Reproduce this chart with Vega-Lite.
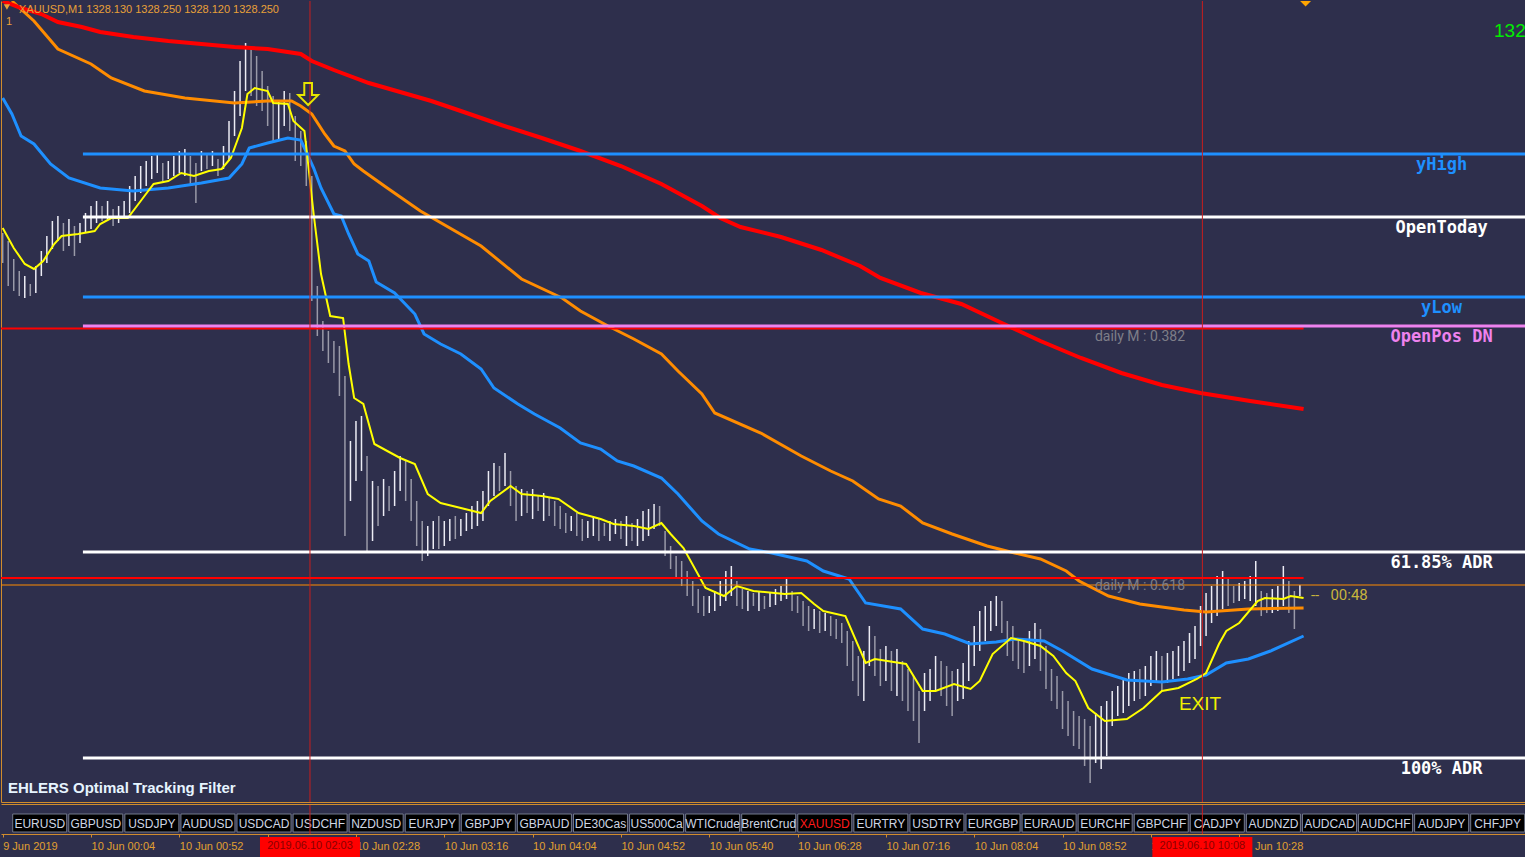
{
"$schema": "https://vega.github.io/schema/vega-lite/v6.json",
"padding": 0,
"background": "#2e2f4c",
"spacing": 0,
"config": {"view": {"stroke": null}, "axis": {"grid": false}},
"datasets": {
"candles": [
{"t":0,"h":1335.36,"l":1334.76,"c":"d"},{"t":3,"h":1335.20,"l":1334.30,"c":"d"},{"t":6,"h":1334.84,"l":1334.20,"c":"d"},{"t":9,"h":1334.60,"l":1334.10,"c":"d"},{"t":12,"h":1334.50,"l":1334.06,"c":"u"},{"t":15,"h":1334.34,"l":1334.10,"c":"d"},{"t":18,"h":1334.70,"l":1334.16,"c":"u"},{"t":21,"h":1335.00,"l":1334.50,"c":"u"},{"t":24,"h":1335.30,"l":1334.76,"c":"u"},{"t":27,"h":1335.60,"l":1335.04,"c":"u"},{"t":30,"h":1335.70,"l":1335.20,"c":"u"},{"t":33,"h":1335.56,"l":1335.00,"c":"d"},{"t":36,"h":1335.64,"l":1335.10,"c":"u"},{"t":39,"h":1335.50,"l":1334.90,"c":"d"},{"t":42,"h":1335.56,"l":1335.16,"c":"u"},{"t":45,"h":1335.76,"l":1335.36,"c":"u"},{"t":48,"h":1335.90,"l":1335.44,"c":"u"},{"t":51,"h":1336.00,"l":1335.56,"c":"u"},{"t":54,"h":1335.90,"l":1335.60,"c":"d"},{"t":57,"h":1336.00,"l":1335.64,"c":"u"},{"t":60,"h":1335.84,"l":1335.50,"c":"d"},{"t":63,"h":1335.90,"l":1335.56,"c":"u"},{"t":66,"h":1336.00,"l":1335.64,"c":"u"},{"t":69,"h":1336.30,"l":1335.76,"c":"u"},{"t":72,"h":1336.50,"l":1336.00,"c":"u"},{"t":75,"h":1336.70,"l":1336.16,"c":"u"},{"t":78,"h":1336.80,"l":1336.30,"c":"u"},{"t":81,"h":1336.90,"l":1336.44,"c":"u"},{"t":84,"h":1336.96,"l":1336.56,"c":"u"},{"t":87,"h":1336.76,"l":1336.40,"c":"d"},{"t":90,"h":1336.80,"l":1336.44,"c":"u"},{"t":93,"h":1336.90,"l":1336.50,"c":"u"},{"t":96,"h":1337.00,"l":1336.56,"c":"u"},{"t":99,"h":1337.04,"l":1336.50,"c":"u"},{"t":102,"h":1336.90,"l":1336.30,"c":"d"},{"t":105,"h":1336.76,"l":1335.96,"c":"d"},{"t":108,"h":1337.00,"l":1336.60,"c":"u"},{"t":111,"h":1336.96,"l":1336.64,"c":"d"},{"t":114,"h":1337.00,"l":1336.70,"c":"u"},{"t":117,"h":1336.84,"l":1336.50,"c":"d"},{"t":120,"h":1337.10,"l":1336.64,"c":"u"},{"t":123,"h":1337.60,"l":1336.80,"c":"u"},{"t":126,"h":1338.20,"l":1337.30,"c":"u"},{"t":129,"h":1338.80,"l":1337.70,"c":"u"},{"t":132,"h":1339.16,"l":1338.20,"c":"u"},{"t":135,"h":1339.04,"l":1338.10,"c":"d"},{"t":138,"h":1338.90,"l":1337.90,"c":"d"},{"t":141,"h":1338.60,"l":1337.80,"c":"d"},{"t":144,"h":1338.30,"l":1337.50,"c":"d"},{"t":147,"h":1338.10,"l":1337.20,"c":"d"},{"t":150,"h":1338.00,"l":1337.24,"c":"u"},{"t":153,"h":1338.20,"l":1337.50,"c":"u"},{"t":156,"h":1338.16,"l":1337.40,"c":"d"},{"t":159,"h":1337.70,"l":1336.80,"c":"d"},{"t":162,"h":1337.40,"l":1336.70,"c":"d"},{"t":165,"h":1337.20,"l":1336.30,"c":"d"},{"t":168,"h":1336.50,"l":1334.00,"c":"d"},{"t":171,"h":1334.30,"l":1333.30,"c":"d"},{"t":174,"h":1333.60,"l":1333.00,"c":"d"},{"t":177,"h":1333.40,"l":1332.76,"c":"d"},{"t":180,"h":1333.20,"l":1332.56,"c":"d"},{"t":183,"h":1333.10,"l":1332.10,"c":"d"},{"t":186,"h":1332.50,"l":1329.30,"c":"d"},{"t":189,"h":1331.20,"l":1330.00,"c":"u"},{"t":192,"h":1331.60,"l":1330.40,"c":"u"},{"t":195,"h":1331.70,"l":1330.60,"c":"u"},{"t":198,"h":1330.90,"l":1329.00,"c":"d"},{"t":201,"h":1330.40,"l":1329.20,"c":"u"},{"t":204,"h":1330.30,"l":1329.50,"c":"d"},{"t":207,"h":1330.44,"l":1329.70,"c":"u"},{"t":210,"h":1330.30,"l":1329.80,"c":"d"},{"t":213,"h":1330.60,"l":1329.90,"c":"u"},{"t":216,"h":1330.90,"l":1330.20,"c":"u"},{"t":219,"h":1330.80,"l":1330.00,"c":"d"},{"t":222,"h":1330.44,"l":1329.60,"c":"d"},{"t":225,"h":1330.00,"l":1329.10,"c":"d"},{"t":228,"h":1329.60,"l":1328.80,"c":"d"},{"t":231,"h":1329.50,"l":1328.90,"c":"u"},{"t":234,"h":1329.60,"l":1329.04,"c":"u"},{"t":237,"h":1329.70,"l":1329.04,"c":"d"},{"t":240,"h":1329.60,"l":1329.10,"c":"u"},{"t":243,"h":1329.64,"l":1329.20,"c":"u"},{"t":246,"h":1329.70,"l":1329.24,"c":"d"},{"t":249,"h":1329.64,"l":1329.30,"c":"u"},{"t":252,"h":1329.76,"l":1329.40,"c":"u"},{"t":255,"h":1329.90,"l":1329.44,"c":"u"},{"t":258,"h":1330.00,"l":1329.50,"c":"u"},{"t":261,"h":1330.20,"l":1329.60,"c":"u"},{"t":264,"h":1330.60,"l":1329.90,"c":"u"},{"t":267,"h":1330.76,"l":1330.10,"c":"u"},{"t":270,"h":1330.70,"l":1330.20,"c":"d"},{"t":273,"h":1330.96,"l":1330.30,"c":"u"},{"t":276,"h":1330.60,"l":1329.90,"c":"d"},{"t":279,"h":1330.30,"l":1329.60,"c":"d"},{"t":282,"h":1330.24,"l":1329.70,"c":"u"},{"t":285,"h":1330.20,"l":1329.76,"c":"d"},{"t":288,"h":1330.24,"l":1329.64,"c":"u"},{"t":291,"h":1330.10,"l":1329.80,"c":"d"},{"t":294,"h":1330.16,"l":1329.60,"c":"u"},{"t":297,"h":1330.06,"l":1329.70,"c":"d"},{"t":300,"h":1330.00,"l":1329.50,"c":"d"},{"t":303,"h":1329.90,"l":1329.44,"c":"d"},{"t":306,"h":1329.76,"l":1329.36,"c":"d"},{"t":309,"h":1329.70,"l":1329.40,"c":"u"},{"t":312,"h":1329.76,"l":1329.30,"c":"d"},{"t":315,"h":1329.64,"l":1329.20,"c":"d"},{"t":318,"h":1329.60,"l":1329.26,"c":"u"},{"t":321,"h":1329.70,"l":1329.30,"c":"u"},{"t":324,"h":1329.64,"l":1329.20,"c":"d"},{"t":327,"h":1329.56,"l":1329.30,"c":"d"},{"t":330,"h":1329.60,"l":1329.20,"c":"u"},{"t":333,"h":1329.64,"l":1329.34,"c":"u"},{"t":336,"h":1329.60,"l":1329.24,"c":"d"},{"t":339,"h":1329.70,"l":1329.10,"c":"u"},{"t":342,"h":1329.56,"l":1329.20,"c":"d"},{"t":345,"h":1329.64,"l":1329.10,"c":"u"},{"t":348,"h":1329.80,"l":1329.20,"c":"u"},{"t":351,"h":1329.84,"l":1329.30,"c":"u"},{"t":354,"h":1329.94,"l":1329.44,"c":"u"},{"t":357,"h":1329.90,"l":1329.50,"c":"d"},{"t":360,"h":1329.40,"l":1328.90,"c":"d"},{"t":363,"h":1329.10,"l":1328.64,"c":"d"},{"t":366,"h":1328.90,"l":1328.44,"c":"d"},{"t":369,"h":1328.80,"l":1328.30,"c":"d"},{"t":372,"h":1328.60,"l":1328.10,"c":"d"},{"t":375,"h":1328.40,"l":1327.90,"c":"d"},{"t":378,"h":1328.24,"l":1327.76,"c":"d"},{"t":381,"h":1328.10,"l":1327.70,"c":"d"},{"t":384,"h":1328.10,"l":1327.76,"c":"u"},{"t":387,"h":1328.20,"l":1327.80,"c":"u"},{"t":390,"h":1328.40,"l":1327.90,"c":"u"},{"t":393,"h":1328.60,"l":1328.00,"c":"u"},{"t":396,"h":1328.70,"l":1328.10,"c":"u"},{"t":399,"h":1328.40,"l":1327.90,"c":"d"},{"t":402,"h":1328.24,"l":1327.84,"c":"d"},{"t":405,"h":1328.20,"l":1327.80,"c":"u"},{"t":408,"h":1328.16,"l":1327.90,"c":"d"},{"t":411,"h":1328.20,"l":1327.80,"c":"u"},{"t":414,"h":1328.10,"l":1327.84,"c":"d"},{"t":417,"h":1328.16,"l":1327.88,"c":"u"},{"t":420,"h":1328.24,"l":1327.92,"c":"u"},{"t":423,"h":1328.30,"l":1328.00,"c":"u"},{"t":426,"h":1328.44,"l":1328.04,"c":"u"},{"t":429,"h":1328.20,"l":1327.80,"c":"d"},{"t":432,"h":1328.10,"l":1327.76,"c":"d"},{"t":435,"h":1328.00,"l":1327.50,"c":"d"},{"t":438,"h":1327.90,"l":1327.40,"c":"d"},{"t":441,"h":1327.84,"l":1327.44,"c":"u"},{"t":444,"h":1327.80,"l":1327.36,"c":"d"},{"t":447,"h":1327.76,"l":1327.40,"c":"u"},{"t":450,"h":1327.70,"l":1327.30,"c":"d"},{"t":453,"h":1327.64,"l":1327.24,"c":"d"},{"t":456,"h":1327.56,"l":1327.16,"c":"d"},{"t":459,"h":1327.40,"l":1326.70,"c":"d"},{"t":462,"h":1327.20,"l":1326.40,"c":"d"},{"t":465,"h":1326.90,"l":1326.10,"c":"d"},{"t":468,"h":1327.00,"l":1326.00,"c":"u"},{"t":471,"h":1327.50,"l":1326.70,"c":"u"},{"t":474,"h":1327.30,"l":1326.50,"c":"d"},{"t":477,"h":1327.04,"l":1326.30,"c":"d"},{"t":480,"h":1327.10,"l":1326.40,"c":"u"},{"t":483,"h":1327.00,"l":1326.20,"c":"d"},{"t":486,"h":1327.04,"l":1326.10,"c":"u"},{"t":489,"h":1326.80,"l":1326.00,"c":"d"},{"t":492,"h":1326.64,"l":1325.80,"c":"d"},{"t":495,"h":1326.50,"l":1325.60,"c":"d"},{"t":498,"h":1326.20,"l":1325.16,"c":"d"},{"t":501,"h":1326.56,"l":1325.80,"c":"u"},{"t":504,"h":1326.64,"l":1326.00,"c":"u"},{"t":507,"h":1326.90,"l":1326.20,"c":"u"},{"t":510,"h":1326.80,"l":1326.10,"c":"d"},{"t":513,"h":1326.70,"l":1325.90,"c":"d"},{"t":516,"h":1326.60,"l":1325.70,"c":"d"},{"t":519,"h":1326.64,"l":1326.00,"c":"u"},{"t":522,"h":1326.76,"l":1326.04,"c":"u"},{"t":525,"h":1327.20,"l":1326.40,"c":"u"},{"t":528,"h":1327.50,"l":1326.70,"c":"u"},{"t":531,"h":1327.80,"l":1327.00,"c":"u"},{"t":534,"h":1327.90,"l":1327.20,"c":"u"},{"t":537,"h":1328.00,"l":1327.40,"c":"u"},{"t":540,"h":1328.10,"l":1327.50,"c":"u"},{"t":543,"h":1328.00,"l":1327.36,"c":"d"},{"t":546,"h":1327.60,"l":1326.90,"c":"d"},{"t":549,"h":1327.50,"l":1326.80,"c":"d"},{"t":552,"h":1327.24,"l":1326.64,"c":"d"},{"t":555,"h":1327.20,"l":1326.56,"c":"d"},{"t":558,"h":1327.40,"l":1326.70,"c":"u"},{"t":561,"h":1327.56,"l":1326.84,"c":"u"},{"t":564,"h":1327.44,"l":1326.60,"c":"d"},{"t":567,"h":1327.10,"l":1326.24,"c":"d"},{"t":570,"h":1326.64,"l":1326.00,"c":"d"},{"t":573,"h":1326.50,"l":1325.84,"c":"d"},{"t":576,"h":1326.20,"l":1325.44,"c":"d"},{"t":579,"h":1326.00,"l":1325.30,"c":"d"},{"t":582,"h":1325.80,"l":1325.10,"c":"d"},{"t":585,"h":1325.70,"l":1325.04,"c":"d"},{"t":588,"h":1325.64,"l":1324.70,"c":"d"},{"t":591,"h":1325.50,"l":1324.36,"c":"d"},{"t":594,"h":1325.76,"l":1324.76,"c":"u"},{"t":597,"h":1325.90,"l":1324.64,"c":"u"},{"t":600,"h":1326.00,"l":1324.90,"c":"u"},{"t":603,"h":1326.20,"l":1325.50,"c":"u"},{"t":606,"h":1326.30,"l":1325.70,"c":"u"},{"t":609,"h":1326.44,"l":1325.76,"c":"u"},{"t":612,"h":1326.56,"l":1325.90,"c":"u"},{"t":615,"h":1326.60,"l":1326.00,"c":"u"},{"t":618,"h":1326.64,"l":1326.04,"c":"d"},{"t":621,"h":1326.70,"l":1326.10,"c":"u"},{"t":624,"h":1326.90,"l":1326.30,"c":"u"},{"t":627,"h":1327.00,"l":1326.40,"c":"u"},{"t":630,"h":1326.90,"l":1326.20,"c":"d"},{"t":633,"h":1326.96,"l":1326.36,"c":"u"},{"t":636,"h":1327.00,"l":1326.44,"c":"u"},{"t":639,"h":1327.10,"l":1326.50,"c":"u"},{"t":642,"h":1327.20,"l":1326.60,"c":"u"},{"t":645,"h":1327.36,"l":1326.76,"c":"u"},{"t":648,"h":1327.50,"l":1326.84,"c":"u"},{"t":651,"h":1327.90,"l":1327.10,"c":"u"},{"t":654,"h":1328.16,"l":1327.30,"c":"u"},{"t":657,"h":1328.30,"l":1327.56,"c":"u"},{"t":660,"h":1328.50,"l":1327.70,"c":"u"},{"t":663,"h":1328.60,"l":1327.84,"c":"u"},{"t":666,"h":1328.44,"l":1327.90,"c":"d"},{"t":669,"h":1328.30,"l":1327.96,"c":"d"},{"t":672,"h":1328.36,"l":1328.00,"c":"u"},{"t":675,"h":1328.40,"l":1328.04,"c":"u"},{"t":678,"h":1328.50,"l":1328.00,"c":"u"},{"t":681,"h":1328.80,"l":1327.90,"c":"u"},{"t":684,"h":1328.20,"l":1327.70,"c":"d"},{"t":687,"h":1328.16,"l":1327.76,"c":"d"},{"t":690,"h":1328.24,"l":1327.76,"c":"u"},{"t":693,"h":1328.30,"l":1327.80,"c":"u"},{"t":696,"h":1328.70,"l":1327.90,"c":"u"},{"t":699,"h":1328.40,"l":1327.76,"c":"d"},{"t":702,"h":1328.20,"l":1327.44,"c":"d"},{"t":705,"h":1328.32,"l":1328.10,"c":"u"}
],
"red": [
{"t":0,"p":1340.00},{"t":10,"p":1339.86},{"t":21,"p":1339.74},{"t":30,"p":1339.58},{"t":43,"p":1339.48},{"t":53,"p":1339.38},{"t":71,"p":1339.28},{"t":90,"p":1339.20},{"t":108,"p":1339.14},{"t":126,"p":1339.08},{"t":144,"p":1339.04},{"t":162,"p":1338.94},{"t":168,"p":1338.80},{"t":180,"p":1338.62},{"t":199,"p":1338.36},{"t":216,"p":1338.18},{"t":233,"p":1338.00},{"t":249,"p":1337.80},{"t":271,"p":1337.52},{"t":293,"p":1337.26},{"t":314,"p":1337.00},{"t":336,"p":1336.70},{"t":358,"p":1336.34},{"t":380,"p":1335.90},{"t":390,"p":1335.66},{"t":401,"p":1335.48},{"t":423,"p":1335.28},{"t":445,"p":1335.02},{"t":466,"p":1334.70},{"t":477,"p":1334.46},{"t":499,"p":1334.16},{"t":521,"p":1333.94},{"t":543,"p":1333.56},{"t":564,"p":1333.20},{"t":586,"p":1332.86},{"t":608,"p":1332.56},{"t":630,"p":1332.32},{"t":651,"p":1332.16},{"t":678,"p":1332.00},{"t":707,"p":1331.84}
],
"orange": [
{"t":5,"p":1340.00},{"t":17,"p":1339.60},{"t":30,"p":1339.04},{"t":48,"p":1338.74},{"t":59,"p":1338.46},{"t":77,"p":1338.20},{"t":99,"p":1338.06},{"t":126,"p":1337.96},{"t":144,"p":1338.00},{"t":157,"p":1338.00},{"t":162,"p":1337.90},{"t":168,"p":1337.74},{"t":175,"p":1337.34},{"t":180,"p":1337.10},{"t":186,"p":1337.00},{"t":191,"p":1336.74},{"t":196,"p":1336.60},{"t":209,"p":1336.26},{"t":227,"p":1335.80},{"t":260,"p":1335.10},{"t":282,"p":1334.44},{"t":304,"p":1334.06},{"t":314,"p":1333.80},{"t":329,"p":1333.50},{"t":343,"p":1333.24},{"t":358,"p":1332.94},{"t":367,"p":1332.60},{"t":380,"p":1332.14},{"t":387,"p":1331.76},{"t":412,"p":1331.36},{"t":434,"p":1330.90},{"t":450,"p":1330.60},{"t":462,"p":1330.40},{"t":476,"p":1330.04},{"t":488,"p":1329.90},{"t":500,"p":1329.56},{"t":516,"p":1329.34},{"t":535,"p":1329.10},{"t":550,"p":1328.96},{"t":564,"p":1328.84},{"t":578,"p":1328.60},{"t":585,"p":1328.40},{"t":601,"p":1328.10},{"t":618,"p":1327.94},{"t":642,"p":1327.82},{"t":654,"p":1327.78},{"t":677,"p":1327.84},{"t":707,"p":1327.86}
],
"blue": [
{"t":0,"p":1338.06},{"t":5,"p":1337.74},{"t":10,"p":1337.30},{"t":17,"p":1337.14},{"t":26,"p":1336.74},{"t":36,"p":1336.46},{"t":53,"p":1336.26},{"t":71,"p":1336.20},{"t":90,"p":1336.26},{"t":108,"p":1336.36},{"t":123,"p":1336.46},{"t":130,"p":1336.74},{"t":134,"p":1337.06},{"t":144,"p":1337.16},{"t":155,"p":1337.26},{"t":162,"p":1337.22},{"t":164,"p":1337.06},{"t":169,"p":1336.66},{"t":173,"p":1336.26},{"t":180,"p":1335.74},{"t":184,"p":1335.70},{"t":188,"p":1335.34},{"t":193,"p":1334.94},{"t":199,"p":1334.80},{"t":203,"p":1334.38},{"t":213,"p":1334.16},{"t":224,"p":1333.74},{"t":229,"p":1333.34},{"t":238,"p":1333.14},{"t":249,"p":1332.94},{"t":260,"p":1332.64},{"t":267,"p":1332.26},{"t":280,"p":1331.94},{"t":289,"p":1331.74},{"t":303,"p":1331.46},{"t":314,"p":1331.16},{"t":325,"p":1331.04},{"t":334,"p":1330.80},{"t":343,"p":1330.70},{"t":358,"p":1330.46},{"t":367,"p":1330.14},{"t":380,"p":1329.60},{"t":389,"p":1329.34},{"t":406,"p":1329.04},{"t":418,"p":1328.96},{"t":437,"p":1328.80},{"t":446,"p":1328.60},{"t":460,"p":1328.44},{"t":469,"p":1327.96},{"t":488,"p":1327.84},{"t":500,"p":1327.44},{"t":512,"p":1327.34},{"t":526,"p":1327.14},{"t":540,"p":1327.18},{"t":550,"p":1327.24},{"t":566,"p":1327.20},{"t":576,"p":1327.00},{"t":592,"p":1326.64},{"t":611,"p":1326.42},{"t":630,"p":1326.38},{"t":644,"p":1326.44},{"t":654,"p":1326.52},{"t":665,"p":1326.76},{"t":677,"p":1326.84},{"t":689,"p":1327.00},{"t":707,"p":1327.30}
],
"yellow": [
{"t":0,"p":1335.46},{"t":6,"p":1335.06},{"t":12,"p":1334.74},{"t":17,"p":1334.64},{"t":22,"p":1334.80},{"t":28,"p":1335.14},{"t":32,"p":1335.30},{"t":41,"p":1335.34},{"t":50,"p":1335.40},{"t":53,"p":1335.54},{"t":59,"p":1335.66},{"t":68,"p":1335.66},{"t":75,"p":1336.00},{"t":82,"p":1336.34},{"t":90,"p":1336.40},{"t":97,"p":1336.56},{"t":104,"p":1336.50},{"t":112,"p":1336.60},{"t":119,"p":1336.64},{"t":124,"p":1336.86},{"t":130,"p":1337.46},{"t":133,"p":1338.14},{"t":137,"p":1338.26},{"t":144,"p":1338.20},{"t":147,"p":1337.96},{"t":155,"p":1337.94},{"t":158,"p":1337.60},{"t":164,"p":1337.40},{"t":166,"p":1336.74},{"t":169,"p":1335.74},{"t":173,"p":1334.54},{"t":178,"p":1333.70},{"t":185,"p":1333.66},{"t":188,"p":1332.74},{"t":191,"p":1332.06},{"t":196,"p":1331.94},{"t":202,"p":1331.14},{"t":209,"p":1331.00},{"t":216,"p":1330.86},{"t":224,"p":1330.74},{"t":231,"p":1330.14},{"t":238,"p":1329.96},{"t":249,"p":1329.86},{"t":260,"p":1329.76},{"t":265,"p":1330.00},{"t":276,"p":1330.30},{"t":282,"p":1330.14},{"t":293,"p":1330.10},{"t":302,"p":1330.04},{"t":313,"p":1329.76},{"t":325,"p":1329.64},{"t":332,"p":1329.54},{"t":343,"p":1329.50},{"t":351,"p":1329.44},{"t":358,"p":1329.56},{"t":363,"p":1329.34},{"t":370,"p":1329.06},{"t":382,"p":1328.26},{"t":392,"p":1328.10},{"t":399,"p":1328.30},{"t":408,"p":1328.20},{"t":425,"p":1328.14},{"t":434,"p":1328.16},{"t":441,"p":1327.94},{"t":446,"p":1327.80},{"t":458,"p":1327.70},{"t":469,"p":1326.76},{"t":474,"p":1326.84},{"t":491,"p":1326.74},{"t":500,"p":1326.20},{"t":507,"p":1326.20},{"t":517,"p":1326.34},{"t":526,"p":1326.24},{"t":531,"p":1326.40},{"t":538,"p":1326.94},{"t":548,"p":1327.26},{"t":555,"p":1327.20},{"t":564,"p":1327.10},{"t":571,"p":1326.90},{"t":578,"p":1326.56},{"t":583,"p":1326.40},{"t":590,"p":1325.86},{"t":599,"p":1325.60},{"t":611,"p":1325.64},{"t":620,"p":1325.86},{"t":630,"p":1326.20},{"t":639,"p":1326.26},{"t":649,"p":1326.44},{"t":654,"p":1326.56},{"t":661,"p":1327.14},{"t":665,"p":1327.40},{"t":672,"p":1327.56},{"t":682,"p":1328.00},{"t":686,"p":1328.06},{"t":696,"p":1328.04},{"t":700,"p":1328.10},{"t":707,"p":1328.06}
],
"levels": [
{"n":"yHigh","p":1336.94},{"n":"OpenToday","p":1335.68},{"n":"yLow","p":1334.08},{"n":"OpenPos DN","p":1333.50},{"n":"61.85% ADR","p":1328.98},{"n":"100% ADR","p":1324.86}
],
"redlines": [{"n":"daily M 0.382","p":1333.45},{"n":"daily M 0.618","p":1328.46}],
"cross": [{"t":167,"lab":"2019.06.10 02:03"},{"t":652,"lab":"2019.06.10 10:08"}],
"tabs": [{"s":"EURUSD"},{"s":"GBPUSD"},{"s":"USDJPY"},{"s":"AUDUSD"},{"s":"USDCAD"},{"s":"USDCHF"},{"s":"NZDUSD"},{"s":"EURJPY"},{"s":"GBPJPY"},{"s":"GBPAUD"},{"s":"DE30Cash"},{"s":"US500Cash"},{"s":"WTICrude"},{"s":"BrentCrude"},{"s":"XAUUSD"},{"s":"EURTRY"},{"s":"USDTRY"},{"s":"EURGBP"},{"s":"EURAUD"},{"s":"EURCHF"},{"s":"GBPCHF"},{"s":"CADJPY"},{"s":"AUDNZD"},{"s":"AUDCAD"},{"s":"AUDCHF"},{"s":"AUDJPY"},{"s":"CHFJPY"}]
},
"vconcat": [
{
"width": 1525,
"height": 801,
"layer": [
{"data": {"name": "candles"}, "mark": {"type": "rule", "strokeWidth": 1.5},
 "encoding": {
  "x": {"field": "t", "type": "quantitative", "scale": {"domain": [-0.92, 827.88], "nice": false, "zero": false, "padding": 0}, "axis": {"orient": "bottom", "labels": false, "ticks": false, "domainColor": "#d08c2c", "title": null}},
  "y": {"field": "h", "type": "quantitative", "scale": {"domain": [1323.98, 1340], "nice": false, "zero": false, "padding": 0}, "axis": {"orient": "left", "labels": false, "ticks": false, "domainColor": "#d08c2c", "title": null}}, "y2": {"field": "l"},
  "color": {"field": "c", "type": "nominal", "scale": {"domain": ["u", "d"], "range": ["#ececf4", "#9a9aa8"]}, "legend": null}}},
{"data": {"name": "orange"}, "mark": {"type": "line", "color": "#ff8c00", "strokeWidth": 3, "clip": true}, "encoding": {"x": {"field": "t", "type": "quantitative"}, "y": {"field": "p", "type": "quantitative"}}},
{"data": {"name": "red"}, "mark": {"type": "line", "color": "#ff0000", "strokeWidth": 4, "clip": true}, "encoding": {"x": {"field": "t", "type": "quantitative"}, "y": {"field": "p", "type": "quantitative"}}},
{"data": {"name": "blue"}, "mark": {"type": "line", "color": "#1e90ff", "strokeWidth": 3, "clip": true}, "encoding": {"x": {"field": "t", "type": "quantitative"}, "y": {"field": "p", "type": "quantitative"}}},
{"data": {"name": "yellow"}, "mark": {"type": "line", "color": "#ffff00", "strokeWidth": 2, "clip": true}, "encoding": {"x": {"field": "t", "type": "quantitative"}, "y": {"field": "p", "type": "quantitative"}}},
{"data": {"name": "redlines"}, "mark": {"type": "rule", "color": "#ff0000", "strokeWidth": 2},
 "encoding": {"x": {"datum": -0.92, "type": "quantitative"}, "x2": {"datum": 707}, "y": {"field": "p", "type": "quantitative"}}},
{"data": {"values": [{"p": 1328.32}]}, "mark": {"type": "rule", "color": "#ff8c00", "strokeWidth": 1},
 "encoding": {"x": {"datum": -0.92, "type": "quantitative"}, "x2": {"datum": 827.88}, "y": {"field": "p", "type": "quantitative"}}},
{"data": {"name": "levels"}, "mark": {"type": "rule"},
 "encoding": {"x": {"datum": 43.6, "type": "quantitative"}, "x2": {"datum": 827.88}, "y": {"field": "p", "type": "quantitative"},
  "color": {"field": "n", "type": "nominal", "scale": {"domain": ["yHigh", "OpenToday", "yLow", "OpenPos DN", "61.85% ADR", "100% ADR"], "range": ["#1e90ff", "#ffffff", "#1e90ff", "#ee82ee", "#ffffff", "#ffffff"]}, "legend": null},
  "strokeWidth": {"field": "n", "type": "nominal", "scale": {"domain": ["yHigh", "OpenToday", "yLow", "OpenPos DN", "61.85% ADR", "100% ADR"], "range": [3, 3, 3, 2, 2, 2]}, "legend": null}}},
{"data": {"name": "levels"}, "mark": {"type": "text", "font": "DejaVu Sans Mono", "fontWeight": "bold", "fontSize": 17, "align": "center", "baseline": "middle", "dy": 11},
 "encoding": {"x": {"datum": 782, "type": "quantitative"}, "y": {"field": "p", "type": "quantitative"}, "text": {"field": "n"},
  "color": {"field": "n", "type": "nominal", "scale": {"domain": ["yHigh", "OpenToday", "yLow", "OpenPos DN", "61.85% ADR", "100% ADR"], "range": ["#1e90ff", "#ffffff", "#1e90ff", "#ee82ee", "#ffffff", "#ffffff"]}, "legend": null}}},
{"data": {"name": "cross"}, "mark": {"type": "rule", "color": "#c81e1e", "strokeWidth": 1}, "encoding": {"x": {"field": "t", "type": "quantitative"}}},
{"data": {"values": [{"t": 593.6, "p": 1333.28, "txt": "daily M : 0.382"}, {"t": 593.6, "p": 1328.30, "txt": "daily M : 0.618"}]},
 "mark": {"type": "text", "font": "Roboto", "fontSize": 14, "align": "left", "baseline": "middle", "color": "#7e7e88"},
 "encoding": {"x": {"field": "t", "type": "quantitative"}, "y": {"field": "p", "type": "quantitative"}, "text": {"field": "txt"}}},
{"data": {"values": [{"t": 711, "p": 1328.12, "txt": "--\u00a0\u00a0 00:48"}]},
 "mark": {"type": "text", "font": "Roboto", "fontSize": 15, "align": "left", "baseline": "middle", "color": "#c8b43c"},
 "encoding": {"x": {"field": "t", "type": "quantitative"}, "y": {"field": "p", "type": "quantitative"}, "text": {"field": "txt"}}},
{"data": {"values": [{"t": 650.7, "p": 1325.94, "txt": "EXIT"}]},
 "mark": {"type": "text", "font": "Liberation Sans", "fontSize": 19, "align": "center", "baseline": "middle", "color": "#f0f000"},
 "encoding": {"x": {"field": "t", "type": "quantitative"}, "y": {"field": "p", "type": "quantitative"}, "text": {"field": "txt"}}},
{"data": {"values": [{"t": 2.9, "p": 1324.26, "txt": "EHLERS Optimal Tracking Filter"}]},
 "mark": {"type": "text", "font": "Liberation Sans", "fontWeight": "bold", "fontSize": 15, "align": "left", "baseline": "middle", "color": "#e6f4ff"},
 "encoding": {"x": {"field": "t", "type": "quantitative"}, "y": {"field": "p", "type": "quantitative"}, "text": {"field": "txt"}}},
{"data": {"values": [{"t": 8.9, "p": 1339.82, "txt": "XAUUSD,M1  1328.130 1328.250 1328.120 1328.250"}, {"t": 1.8, "p": 1339.58, "txt": "1"}]},
 "mark": {"type": "text", "font": "Liberation Sans", "fontSize": 11, "align": "left", "baseline": "middle", "color": "#e8a038"},
 "encoding": {"x": {"field": "t", "type": "quantitative"}, "y": {"field": "p", "type": "quantitative"}, "text": {"field": "txt"}}},
{"data": {"values": [{"t": 810.5, "p": 1339.40, "txt": "1328.25"}]},
 "mark": {"type": "text", "font": "Liberation Sans", "fontSize": 19, "align": "left", "baseline": "middle", "color": "#00ee00", "clip": true},
 "encoding": {"x": {"field": "t", "type": "quantitative"}, "y": {"field": "p", "type": "quantitative"}, "text": {"field": "txt"}}},
{"data": {"values": [{"t": 2.3, "p": 1339.88}]},
 "mark": {"type": "point", "shape": "triangle-down", "size": 40, "filled": true, "color": "#e8a038", "opacity": 1, "clip": true},
 "encoding": {"x": {"field": "t", "type": "quantitative"}, "y": {"field": "p", "type": "quantitative"}}},
{"data": {"values": [{"t": 708.1, "p": 1340.0}]},
 "mark": {"type": "point", "shape": "diamond", "size": 120, "filled": true, "color": "#ffa500", "opacity": 1, "clip": true},
 "encoding": {"x": {"field": "t", "type": "quantitative"}, "y": {"field": "p", "type": "quantitative"}}},
{"data": {"values": [{"t": 166, "p": 1338.14}]},
 "mark": {"type": "point", "shape": "M-0.35,-1L0.35,-1L0.35,0.1L0.9,0.1L0,1L-0.9,0.1L-0.35,0.1Z", "size": 484, "filled": false, "stroke": "#e6e600", "strokeWidth": 2, "opacity": 1},
 "encoding": {"x": {"field": "t", "type": "quantitative"}, "y": {"field": "p", "type": "quantitative"}}}
],
"resolve": {"scale": {"color": "independent", "strokeWidth": "independent"}}
},
{
"width": 1525,
"height": 54,
"layer": [
{"data": {"name": "tabs"},
 "encoding": {"x": {"field": "s", "type": "nominal", "sort": null, "scale": {"paddingInner": 0.037, "paddingOuter": 0.116, "align": 0.9}, "axis": {"orient": "top", "labels": false, "ticks": false, "domainColor": "#d08c2c", "title": null}}},
 "layer": [
  {"mark": {"type": "rect", "fill": "#000000", "stroke": "#737a8c", "strokeWidth": 1},
   "encoding": {"y": {"datum": 10, "type": "quantitative", "scale": {"domain": [0, 54], "reverse": true, "nice": false, "zero": false}, "axis": null}, "y2": {"datum": 28}}},
  {"mark": {"type": "text", "font": "Liberation Sans", "fontSize": 12, "align": "center", "baseline": "middle", "limit": 55, "ellipsis": "\u200b"},
   "encoding": {"y": {"datum": 19.5, "type": "quantitative"}, "text": {"field": "s"},
    "color": {"condition": {"test": "datum.s === 'XAUUSD'", "value": "#ff1a1a"}, "value": "#cfd6e4"}}}
 ]},
{"data": {"name": "cross"},
 "encoding": {"x": {"field": "t", "type": "quantitative", "scale": {"domain": [-0.92, 827.88], "nice": false, "zero": false, "padding": 0},
   "axis": {"orient": "bottom", "offset": -24, "values": [0, 48, 96, 144, 192, 240, 288, 336, 384, 432, 480, 528, 576, 624, 672],
    "labelExpr": "datum.value === 0 ? '9 Jun 2019' : timeFormat(datetime(2019, 5, 9, 23, 16 + datum.value), '%d Jun %H:%M')",
    "labels": true, "ticks": true, "labelAlign": "left", "labelBaseline": "top", "labelColor": "#e0a030", "labelFont": "Liberation Sans", "labelFontSize": 11, "labelPadding": 3, "labelFlush": false, "labelOverlap": false, "labelBound": false,
    "tickColor": "#d08c2c", "tickSize": 3, "domainColor": "#d08c2c", "title": null}}},
 "layer": [
  {"mark": {"type": "rule", "color": "#c81e1e", "strokeWidth": 1}, "encoding": {"y": {"datum": 0, "type": "quantitative"}, "y2": {"datum": 30}}},
  {"mark": {"type": "bar", "width": 100, "color": "#ff0000"}, "encoding": {"y": {"datum": 33, "type": "quantitative"}, "y2": {"datum": 54}}},
  {"mark": {"type": "text", "font": "Liberation Sans", "fontSize": 11, "align": "center", "baseline": "middle", "color": "#8a0000"},
   "encoding": {"y": {"datum": 42, "type": "quantitative"}, "text": {"field": "lab"}}}
 ]}
],
"resolve": {"scale": {"x": "independent"}, "axis": {"x": "independent"}}
}
]
}
